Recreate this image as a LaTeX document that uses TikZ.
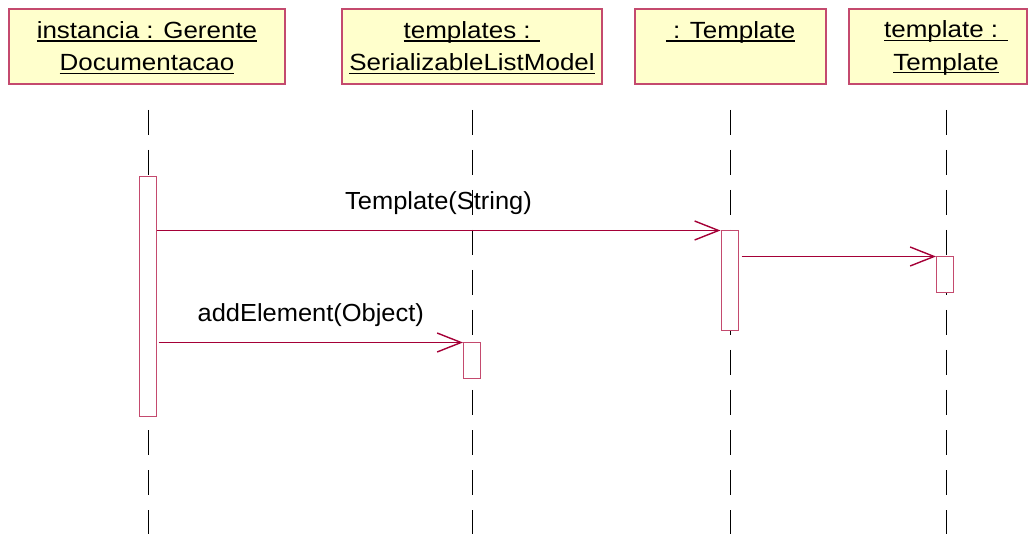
\documentclass[tikz,border=0pt]{standalone}
\usepackage{fontspec}
\setmainfont{Liberation Sans}[FakeStretch=1.03]
\newfontfamily\headfont{Liberation Sans}[FakeStretch=1.11]
\usetikzlibrary{arrows.meta}
\definecolor{umlred}{RGB}{165,0,55}
\definecolor{umlrim}{RGB}{196,74,110}
\definecolor{umlfill}{RGB}{255,255,204}
\newcommand{\ulin}[1]{\setbox0\hbox{#1}\rlap{\rule[-3.2pt]{\wd0}{1.5pt}}\box0}
\newcommand{\hstrut}{\rule[-3.5pt]{0pt}{23.5pt}}

\begin{document}
\begin{tikzpicture}[x=1pt,y=-1pt,
	head/.style={draw=umlrim,line width=1.2pt,fill=umlfill,minimum height=75pt,inner sep=0pt,align=center,font=\headfont\fontsize{23.4}{32.3}\selectfont},
	act/.style={draw=umlrim,line width=1pt,fill=white,minimum width=17pt,inner sep=0pt},
	msg/.style={umlred,line width=1pt,-{Straight Barb[length=24pt,width=19pt,line width=1.4pt]}},
	lbl/.style={text=black,font=\fontsize{24.7}{28}\selectfont,anchor=base,yshift=21pt}]
			\useasboundingbox (0,0) rectangle (1028,534);
			\node[head,minimum width=276pt] (gerente) at (147,46.5) {\hstrut\ulin{instancia : Gerente}\\\hstrut\ulin{Documentacao}};
			\node[head,minimum width=260pt] (lista) at (472,46.5) {\hstrut\ulin{templates : }\\\hstrut\ulin{SerializableListModel}};
			\node[head,minimum width=191pt] (novo) at (730.5,46.5) {\hstrut\ulin{ : Template}\\\hstrut};
			\node[head,minimum width=178pt] (tmpl) at (938,46.5) {\hspace*{16pt}\hstrut\ulin{template : }\\\hspace*{16pt}\hstrut\ulin{Template}};
			\foreach \x in {148,472,730,946}{ \draw[line width=1pt,dash pattern=on 25pt off 15pt] (\x,110) -- (\x,534); }
			\node[act,minimum height=239pt] (a1) at (147.5,296.5) {};
			\node[act,minimum height=100pt] (a3) at (729.5,281) {};
			\node[act,minimum height=36pt] (a4) at (945,275) {};
			\node[act,minimum height=36pt] (a2) at (472,361) {};
			\draw[msg] (a1.east |- a3.north west) -- node[lbl] {Template(String)} (a3.north west);
			\draw[msg] ([xshift=3pt]a3.east |- a4.north west) -- (a4.north west);
			\draw[msg] ([xshift=2pt]a1.east |- a2.north west) -- node[lbl] {addElement(Object)} (a2.north west);
		\end{tikzpicture}
\end{document}
